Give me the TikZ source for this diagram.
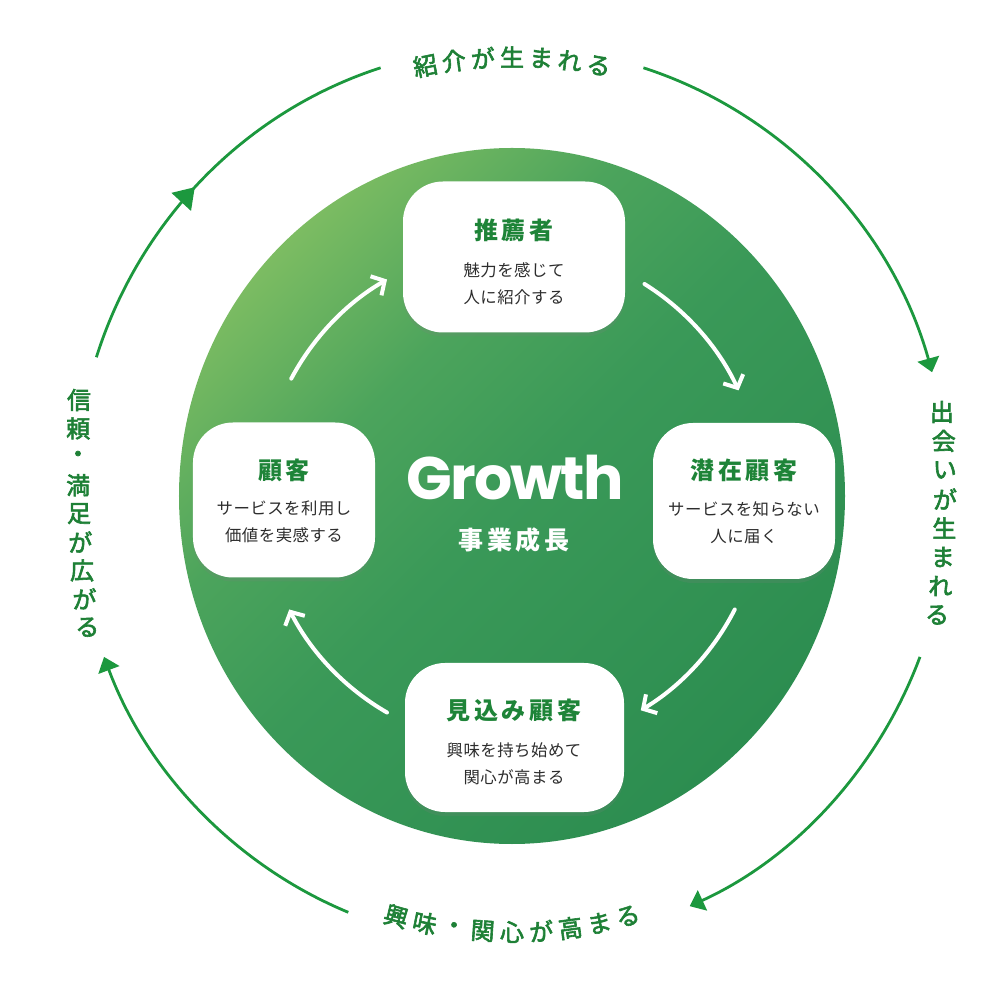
\documentclass[tikz,border=0pt]{standalone}
\usepackage{fontspec}
\usetikzlibrary{arrows.meta,decorations.markings,shadows}
\newfontfamily\jp{Noto Sans CJK JP}
\newfontfamily\jpmid{Noto Sans CJK JP}[FakeBold=2.5]
\newfontfamily\jpwide{Noto Sans CJK JP}[LetterSpace=15]
\newfontfamily\jpsub{Noto Sans CJK JP}[LetterSpace=3]
\newfontfamily\growthfont{Poppins}[LetterSpace=-3]
\definecolor{arcgreen}{RGB}{28,152,62}
\definecolor{labelgreen}{RGB}{30,128,54}
\definecolor{titlegreen}{RGB}{30,132,56}
\definecolor{subgray}{RGB}{45,45,45}
\definecolor{discA}{RGB}{124,188,98}
\definecolor{discM}{RGB}{76,164,92}
\definecolor{discB}{RGB}{58,153,88}
\definecolor{discC}{RGB}{44,141,80}
\pgfdeclareverticalshading{discshade}{100bp}{color(0bp)=(discC); color(25bp)=(discC);
  color(50bp)=(discB); color(62bp)=(discM); color(75bp)=(discA); color(100bp)=(discA)}
\tikzset{
  stagebox/.style={rectangle, rounded corners=20pt, fill=white, inner sep=0pt,
    drop shadow={opacity=0.18, shadow xshift=0pt, shadow yshift=-2pt}},
  stagetitle/.style={font=\jpwide\bfseries\fontsize{12}{14}\selectfont, text=titlegreen, inner sep=0pt},
  stagetext/.style={font=\jpsub\fontsize{8.2}{13.5}\selectfont, text=subgray, align=center, inner sep=0pt},
  loopline/.style={line width=2pt, white, line cap=round, -{Straight Barb[length=5pt,width=11pt]}},
  outerarc/.style={line width=1.4pt, arcgreen, -{Triangle[length=7pt,width=11pt]}},
  outerchar/.style={font=\jpmid\fontsize{12}{12}\selectfont, text=labelgreen, inner sep=0pt},
}
\begin{document}
\begin{tikzpicture}[x=0.5pt, y=0.5pt]
    \useasboundingbox (-512,-504) rectangle (488,496);

    % --- disc ---
    \shade[shading=discshade, shading angle=45]
        (0,0) ellipse [x radius=333, y radius=348];

    % --- stages ---
    \node[stagebox, minimum width=111pt, minimum height=75.5pt] (rec) at (2,239) {};
    \node[stagebox, minimum width=91pt, minimum height=77.5pt] (cust) at (-228,-4) {};
    \node[stagebox, minimum width=91pt, minimum height=78pt] (pot) at (232,-5) {};
    \node[stagebox, minimum width=109.5pt, minimum height=74.5pt] (pros) at (2.5,-241.5) {};

    \node[stagetitle] (recT) at (2,266) {推薦者};
    \node[stagetext] (recS) at (2,212.5) {魅力を感じて\\人に紹介する};
    \node[stagetitle] (custT) at (-228,26) {顧客};
    \node[stagetext] (custS) at (-228,-26) {サービスを利用し\\価値を実感する};
    \node[stagetitle] (potT) at (232,26) {潜在顧客};
    \node[stagetext] (potS) at (232,-27) {サービスを知らない\\人に届く};
    \node[stagetitle] (prosT) at (2,-214) {見込み顧客};
    \node[stagetext] (prosS) at (2,-267.5) {興味を持ち始めて\\関心が高まる};

    % --- centre ---
    \node[font=\growthfont\bfseries\fontsize{30}{30}\selectfont, text=white, inner sep=0pt] (growth) at (3,18) {Growth};
    \node[font=\jpwide\bfseries\fontsize{12.5}{13}\selectfont, text=white, inner sep=0pt] (growthSub) at (2,-44) {事業成長};

    % --- inner cycle ---
    \foreach \s/\e in {152/120, 58/25, -27/-59, 240/207}
        \draw[loopline] (\s:250) arc[start angle=\s, end angle=\e, radius=250];

    % --- outer cycle ---
    \foreach \s/\e in {72.5/16, -21/-66, 248/201}
        \draw[outerarc] (\s:437 and 449) arc[start angle=\s, end angle=\e, x radius=437, y radius=449];
    \draw[line width=1.4pt, arcgreen, postaction={decorate},
        decoration={markings, mark=at position 0.47 with {\arrow{Triangle[length=10pt,width=13pt]}}}]
        (162:437 and 449) arc[start angle=162, end angle=107.5, x radius=437, y radius=449];

    % --- outer labels ---
    \foreach \ch [count=\i from 0] in {紹,介,が,生,ま,れ,る} {
        \pgfmathsetmacro\ang{90+3.8*(3-\i)}
        \node[outerchar, rotate=\ang-90] (top\i) at (\ang:439) {\ch};
    }
    \foreach \ch [count=\i from 0] in {興,味,・,関,心,が,高,ま,る} {
        \pgfmathsetmacro\ang{270-3.85*(4-\i)}
        \node[outerchar, rotate=\ang-270] (bot\i) at (\ang:436) {\ch};
    }
    \foreach \ch [count=\i from 0] in {信,頼,・,満,足,が,広,が,る} {
        \pgfmathsetmacro\py{400+28.4*\i}
        \pgfmathsetmacro\px{78+(0.0179*(\py-457))^2}
        \node[outerchar] (lft\i) at (\px-512, 496-\py) {\ch};
    }
    \foreach \ch [count=\i from 0] in {出,会,い,が,生,ま,れ,る} {
        \pgfmathsetmacro\py{412+29*\i}
        \pgfmathsetmacro\px{945-(0.0226*(\py-490))^2}
        \node[outerchar] (rgt\i) at (\px-512, 496-\py) {\ch};
    }
\end{tikzpicture}
\end{document}
